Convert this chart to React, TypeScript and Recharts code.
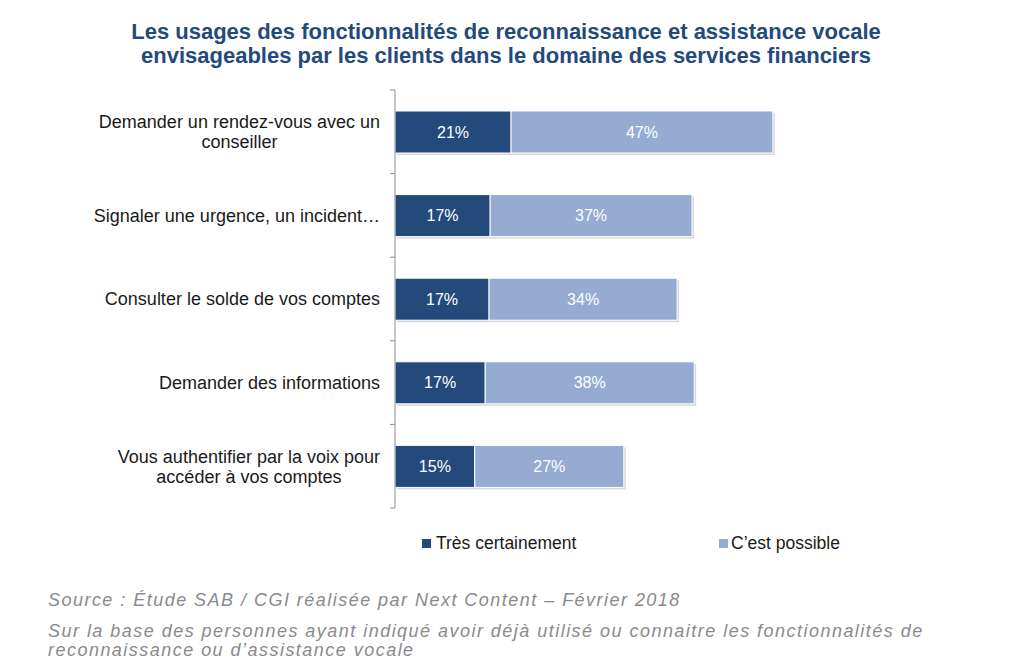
import React from "react";
import { BarChart, Bar, XAxis, YAxis, LabelList, Legend } from "recharts";

const titleLines = [
  "Les usages des fonctionnalités de reconnaissance et assistance vocale",
  "envisageables par les clients dans le domaine des services financiers",
];
const categories = [
  "Demander un rendez-vous avec un conseiller",
  "Signaler une urgence, un incident…",
  "Consulter le solde de vos comptes",
  "Demander des informations",
  "Vous authentifier par la voix pour accéder à vos comptes",
];
const seriesNames = ["Très certainement", "C’est possible"];
const tresCertainement = [21.1, 17.3, 17.1, 16.4, 14.5];
const cestPossible = [47.6, 36.7, 34.2, 38.0, 27.1];
const tresLabels = ["21%", "17%", "17%", "17%", "15%"];
const possibleLabels = ["47%", "37%", "34%", "38%", "27%"];
const sourceText = "Source : Étude SAB / CGI réalisée par Next Content – Février 2018";
const noteLines = [
  "Sur la base des personnes ayant indiqué avoir déjà utilisé ou connaitre les fonctionnalités de",
  "reconnaissance ou d’assistance vocale",
];

const DARK = "#234a7b";
const LIGHT = "#95abd1";
const FONT = "'Liberation Sans', Arial, sans-serif";
const LABEL_SIZE = 18;

const data = categories.map((c, i) => ({
  category: c,
  tres: tresCertainement[i],
  possible: cestPossible[i],
  tresLabel: tresLabels[i],
  possibleLabel: possibleLabels[i],
}));

let ctx: CanvasRenderingContext2D | null = null;
function measure(text: string): number {
  if (!ctx) {
    const c = document.createElement("canvas");
    ctx = c.getContext("2d");
  }
  if (!ctx) return text.length * 9;
  ctx.font = `${LABEL_SIZE}px ${FONT}`;
  return ctx.measureText(text).width;
}

function wrap(text: string, maxWidth: number): string[] {
  const words = text.split(" ");
  const lines: string[] = [];
  let cur = "";
  for (const w of words) {
    const next = cur ? cur + " " + w : w;
    if (measure(next) > maxWidth && cur) {
      lines.push(cur);
      cur = w;
    } else {
      cur = next;
    }
  }
  if (cur) lines.push(cur);
  return lines;
}

// axis line sits at the plot's left edge; ticks are drawn at category boundaries
const CategoryTick = (props: any) => {
  const { x, y, payload, index } = props;
  const half = payload && payload.offset ? payload.offset : 41.8;
  const axisX = x + 2;
  const right = axisX - 15;
  const lines = wrap(String(payload.value), 300);
  const blockW = Math.max(...lines.map(measure));
  const cx = right - blockW / 2;
  const lh = 20;
  return (
    <g>
      <line x1={axisX - 5} x2={axisX} y1={y - half} y2={y - half} stroke="#8c8c8c" strokeWidth={1} />
      {index === categories.length - 1 && (
        <line x1={axisX - 5} x2={axisX} y1={y + half} y2={y + half} stroke="#8c8c8c" strokeWidth={1} />
      )}
      <text textAnchor="middle" fill="#1a1a1a" fontSize={LABEL_SIZE} fontFamily={FONT}>
        {lines.map((l, i) => (
          <tspan key={i} x={cx} y={y + (i - (lines.length - 1) / 2) * lh} dy="0.36em">
            {l}
          </tspan>
        ))}
      </text>
    </g>
  );
};

const renderBar = (props: any) => {
  const { x, y, width, height, fill } = props;
  if (width == null || height == null) return <g />;
  return (
    <g>
      <rect x={x + 2} y={y + 2} width={width} height={height} fill="rgba(0,0,0,0.15)" />
      <rect x={x} y={y} width={width} height={height} fill={fill} stroke="#ffffff" strokeWidth={1} />
    </g>
  );
};

const LegendContent = () => (
  <div style={{ position: "relative", width: 1024, height: 24, fontFamily: FONT, fontSize: 17.5, color: "#1a1a1a" }}>
    <div style={{ position: "absolute", left: 422, top: 7, width: 9, height: 9, background: DARK }} />
    <div style={{ position: "absolute", left: 436, top: 0, lineHeight: "22px" }}>{seriesNames[0]}</div>
    <div style={{ position: "absolute", left: 719, top: 7, width: 9, height: 9, background: LIGHT }} />
    <div style={{ position: "absolute", left: 731, top: 0, lineHeight: "22px" }}>{seriesNames[1]}</div>
  </div>
);

export default function App() {
  return (
    <div style={{ position: "absolute", left: 0, top: 0, width: 1024, height: 672, background: "#fff", overflow: "hidden" }}>
      <div
        style={{
          position: "absolute",
          left: 0,
          top: 20,
          width: 1012,
          textAlign: "center",
          fontFamily: FONT,
          fontWeight: "bold",
          fontSize: 22,
          lineHeight: "24px",
          color: DARK,
        }}
      >
        {titleLines.map((t, i) => (
          <div key={i}>{t}</div>
        ))}
      </div>
      <div style={{ position: "absolute", left: 0, top: 0 }}>
        <BarChart
          width={1024}
          height={672}
          data={data}
          layout="vertical"
          barSize={42}
          margin={{ top: 90, right: 79, bottom: 140, left: 0 }}
        >
          <XAxis type="number" domain={[0, 100]} hide />
          <YAxis
            type="category"
            dataKey="category"
            width={395}
            tickSize={0}
            axisLine={{ stroke: "#8c8c8c", strokeWidth: 1 }}
            tick={<CategoryTick />}
          />
          <Legend
            content={<LegendContent />}
            wrapperStyle={{ position: "absolute", left: 0, top: 532, width: 1024, height: 24 }}
          />
          <Bar dataKey="tres" name={seriesNames[0]} stackId="a" fill={DARK} isAnimationActive={false} shape={renderBar}>
            <LabelList dataKey="tresLabel" position="center" fill="#ffffff" fontSize={16} fontFamily={FONT} />
          </Bar>
          <Bar dataKey="possible" name={seriesNames[1]} stackId="a" fill={LIGHT} isAnimationActive={false} shape={renderBar}>
            <LabelList dataKey="possibleLabel" position="center" fill="#ffffff" fontSize={16} fontFamily={FONT} />
          </Bar>
        </BarChart>
      </div>
      <div
        style={{
          position: "absolute",
          left: 48,
          top: 589,
          fontFamily: FONT,
          fontStyle: "italic",
          fontSize: 18,
          lineHeight: "22px",
          letterSpacing: "1.47px",
          color: "#8a8a8a",
          whiteSpace: "nowrap",
        }}
      >
        {sourceText}
      </div>
      <div
        style={{
          position: "absolute",
          left: 48,
          top: 622,
          fontFamily: FONT,
          fontStyle: "italic",
          fontSize: 18,
          lineHeight: "19px",
          letterSpacing: "1.47px",
          color: "#8a8a8a",
          whiteSpace: "nowrap",
        }}
      >
        {noteLines.map((t, i) => (
          <div key={i}>{t}</div>
        ))}
      </div>
    </div>
  );
}
